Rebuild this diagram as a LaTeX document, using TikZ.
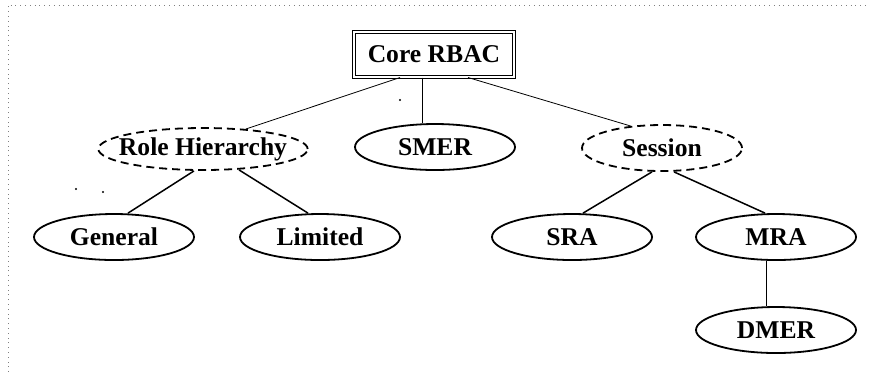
\documentclass[tikz,border=0pt]{standalone}
\usepackage{fontspec}
\setmainfont{Liberation Serif}
\usetikzlibrary{shapes.geometric,calc}

\tikzset{
  leafell/.style={ellipse,draw=black,line width=0.9pt,inner sep=0pt,
    minimum width=80pt,minimum height=23pt,
    font=\bfseries\fontsize{12.8}{14}\selectfont},
  grpell/.style={leafell,dash pattern=on 4pt off 2.5pt},
  rootbox/.style={rectangle,draw=black,double,double distance=1.3pt,line width=0.5pt,
    inner sep=0pt,minimum width=80pt,minimum height=22.5pt,
    font=\bfseries\fontsize{12.8}{14}\selectfont},
  link/.style={line width=0.75pt}
}

\begin{document}
\begin{tikzpicture}[x=0.5pt,y=-0.5pt]
\useasboundingbox (0,0) rectangle (870,372);
\draw[dotted,gray] (8,372) -- (8,5) -- (870,5);

\node[rootbox] (core) at (434,54.5) {Core RBAC};

\node[grpell,inner xsep=-5pt,minimum width=102pt,minimum height=21pt] (rh) at (203,149) {Role Hierarchy};
\node[leafell] (smer) at (435,147) {SMER};
\node[grpell] (ses) at (662,148) {Session};

\node[leafell] (gen) at (114,237) {General};
\node[leafell] (lim) at (320,237) {Limited};
\node[leafell] (sra) at (572,237) {SRA};
\node[leafell] (mra) at (776,237) {MRA};
\node[leafell] (dmer) at (776,330) {DMER};

\draw ($(core.south)+(-34,0)$) -- (rh.25);
\draw ($(core.south)+(-12,0)$) -- ($(smer.north)+(-13,0)$);
\draw ($(core.south)+(34,0)$) -- (ses.145);

\draw[link] ($(rh.south)+(-9,0)$) -- ($(gen.north)+(14,0)$);
\draw[link] ($(rh.south)+(36,-1)$) -- ($(lim.north)+(-12,0)$);
\draw[link] ($(ses.south)+(-10,0)$) -- ($(sra.north)+(11,0)$);
\draw[link] ($(ses.south)+(12,0)$) -- ($(mra.north)+(-11,0)$);
\draw ($(mra.south)+(-10,0)$) -- ($(dmer.north)+(-10,0)$);

\fill (76,189) circle (0.6pt);
\fill (103,192) circle (0.6pt);
\fill (400,100) circle (0.6pt);
\end{tikzpicture}
\end{document}
